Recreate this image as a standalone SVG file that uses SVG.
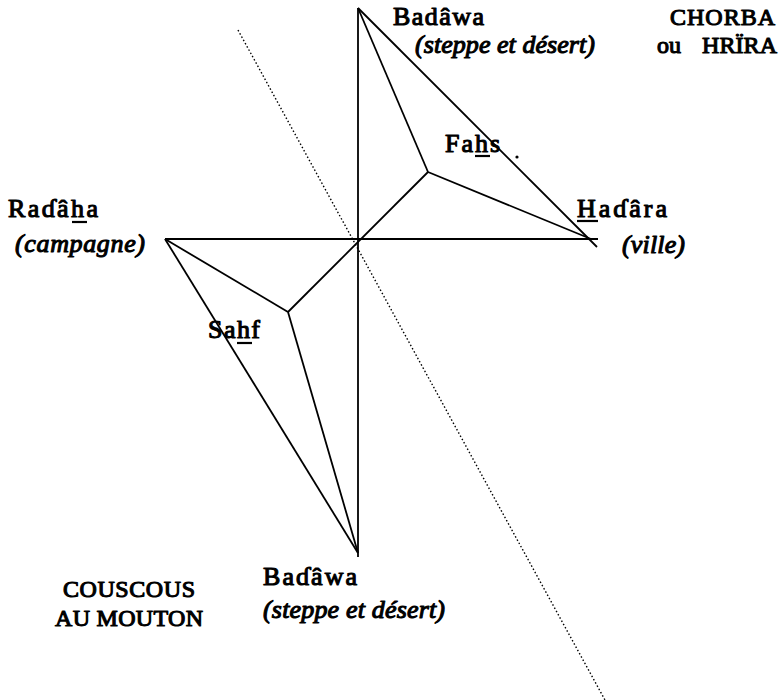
<svg xmlns="http://www.w3.org/2000/svg" width="782" height="700" viewBox="0 0 782 700">
<style>
text{font-family:'Liberation Serif','DejaVu Serif',serif;font-size:26px;font-weight:normal;fill:#000;stroke:#000;stroke-width:1.1;stroke-linejoin:round}
.c{font-size:24px}
.i{font-style:italic}
.ln{stroke:#000;stroke-width:1.8;fill:none;stroke-linecap:butt}
.ul{stroke:#000;stroke-width:2.2}
.dot{stroke:#000;stroke-width:1.4;stroke-dasharray:1.5 2.2;fill:none}
</style>
<rect width="782" height="700" fill="#fff"/>
<g id="connectors">
<line class="dot" x1="238" y1="30" x2="605" y2="700"/>
<line class="ln" x1="358" y1="8" x2="358" y2="557"/>
<line class="ln" x1="165" y1="239" x2="598" y2="239"/>
<line class="ln" x1="358" y1="8" x2="597" y2="247"/>
<line class="ln" x1="358" y1="8" x2="428" y2="172"/>
<line class="ln" x1="428" y1="172" x2="591" y2="239"/>
<line class="ln" x1="428" y1="172" x2="288" y2="312"/>
<line class="ln" x1="165" y1="239" x2="288" y2="312"/>
<line class="ln" x1="165" y1="239" x2="358" y2="553"/>
<line class="ln" x1="288" y1="312" x2="358" y2="553"/>
</g>
<g id="badawa-top">
<text x="393" y="25" textLength="91" lengthAdjust="spacing">Badâwa</text>
<text class="i" x="415" y="53" textLength="180" lengthAdjust="spacing">(steppe et désert)</text>
</g>
<g id="chorba">
<text class="c" x="670" y="25" textLength="105" lengthAdjust="spacing">CHORBA</text>
<text class="c" x="657" y="53">ou</text>
<text class="c" x="702" y="53" textLength="75" lengthAdjust="spacing">HRÏRA</text>
</g>
<g id="fahs">
<text x="445" y="152" textLength="55" lengthAdjust="spacing">Fahs</text>
<line class="ul" x1="475" y1="156" x2="490" y2="156"/>
<circle cx="517" cy="157" r="1.6" fill="#000"/>
</g>
<g id="hadara">
<text x="577" y="217" textLength="90" lengthAdjust="spacing">Haɗâra</text>
<line class="ul" x1="577" y1="221" x2="598" y2="221"/>
<text class="i" x="622" y="253" textLength="63" lengthAdjust="spacing">(ville)</text>
</g>
<g id="radaha">
<text x="8" y="217" textLength="90" lengthAdjust="spacing">Raɗâha</text>
<line class="ul" x1="72" y1="222" x2="87" y2="222"/>
<text class="i" x="15" y="252" textLength="130" lengthAdjust="spacing">(campagne)</text>
</g>
<g id="sahf">
<text x="208" y="338" textLength="52" lengthAdjust="spacing">Sahf</text>
<line class="ul" x1="237" y1="343" x2="252" y2="343"/>
</g>
<g id="couscous">
<text class="c" x="63" y="597" textLength="132" lengthAdjust="spacing">COUSCOUS</text>
<text class="c" x="55" y="626" textLength="148" lengthAdjust="spacing">AU MOUTON</text>
</g>
<g id="badawa-bottom">
<text x="263" y="585" textLength="94" lengthAdjust="spacing">Baɗâwa</text>
<text class="i" x="263" y="618" textLength="182" lengthAdjust="spacing">(steppe et désert)</text>
</g>
</svg>
